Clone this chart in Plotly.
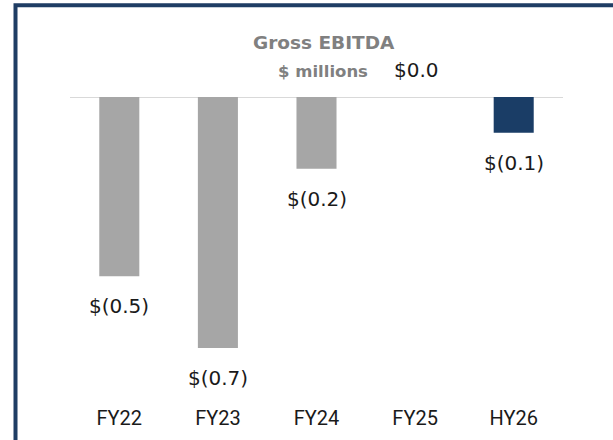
import plotly.graph_objects as go

categories = ["FY22", "FY23", "FY24", "FY25", "HY26"]
values = [-0.5, -0.7, -0.2, 0.0, -0.1]
labels = ["$(0.5)", "$(0.7)", "$(0.2)", "$0.0", "$(0.1)"]
colors = ["#a6a6a6", "#a6a6a6", "#a6a6a6", "#a6a6a6", "#1a3d66"]

W, H = 613, 440
L, R, T, B = 70, 50, 97, 36
pw, ph = W - L - R, H - T - B

fig = go.Figure()
fig.add_trace(go.Bar(
    x=categories, y=values, marker=dict(color=colors, line=dict(width=0)),
    hoverinfo="skip", showlegend=False,
))

lab_font = dict(family="DejaVu Sans", size=20, color="#1a1a1a")
for c, v, lab in zip(categories, values, labels):
    if v < 0:
        fig.add_annotation(x=c, y=v, text=lab, showarrow=False, yanchor="middle",
                           yshift=-30, font=lab_font)
    else:
        fig.add_annotation(x=c, y=v, text=lab, showarrow=False, yanchor="middle",
                           xshift=1, yshift=27, font=lab_font)

# baseline
fig.add_shape(type="line", xref="paper", yref="y", x0=0, x1=1, y0=0, y1=0,
              line=dict(color="#d9d9d9", width=2), layer="below")

# container border
def px_x(p):
    return (p - L) / pw

def px_y(p):
    return 1 - (p - T) / ph

fig.add_shape(type="rect", xref="paper", yref="paper",
              x0=px_x(15.5), x1=px_x(640), y0=px_y(470), y1=px_y(5.3),
              line=dict(color="#1f3d64", width=4), fillcolor="rgba(0,0,0,0)")

fig.add_annotation(xref="paper", yref="paper", x=px_x(324), y=px_y(42.5),
                   text="<b>Gross EBITDA</b>", showarrow=False, yanchor="middle",
                   font=dict(family="DejaVu Sans", size=18.5, color="#808080"))
fig.add_annotation(xref="paper", yref="paper", x=px_x(323), y=px_y(72),
                   text="<b>$ millions</b>", showarrow=False, yanchor="middle",
                   font=dict(family="DejaVu Sans", size=16.5, color="#808080"))

fig.update_layout(
    width=W, height=H,
    margin=dict(l=L, r=R, t=T, b=B, autoexpand=False),
    paper_bgcolor="white", plot_bgcolor="white",
    bargap=0.594,
    xaxis=dict(showgrid=False, zeroline=False, showline=False, ticks="",
               tickfont=dict(family="Roboto", size=20, color="#1a1a1a")),
    yaxis=dict(range=[-0.856, 0], visible=False, showgrid=False, zeroline=False),
)

fig.write_html("out.html", config={"displayModeBar": False},
               post_script="document.body.style.margin='0';")
